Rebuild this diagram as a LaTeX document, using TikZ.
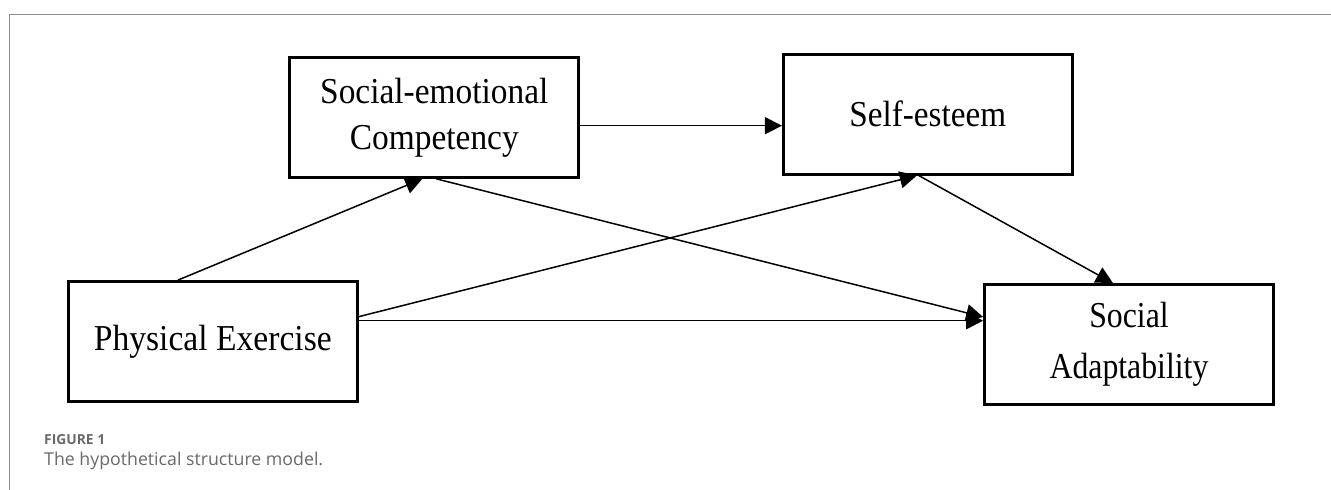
\documentclass[tikz,border=0pt]{standalone}
\usepackage{fontspec}
\usepackage{graphicx}
\setmainfont{Liberation Serif}
\newfontfamily\capfont{Open Sans}
\usetikzlibrary{arrows.meta,calc}
\definecolor{framegray}{RGB}{140,140,140}
\definecolor{capgray}{RGB}{105,105,105}
\newcommand\cnd[2][0.915]{\scalebox{#1}[1]{#2}}
\begin{document}
\begin{tikzpicture}[x=1pt,y=-1pt,
  box/.style={draw=black,line width=2.7pt,minimum width=289pt,minimum height=120pt,
    inner sep=0pt,align=center,font=\fontsize{36.5}{46}\selectfont},
  arr/.style={line width=1.5pt,-{Triangle[length=17pt,width=17pt]}}]
\useasboundingbox (0,0) rectangle (1331,490);
% frame
\draw[framegray,line width=1.4pt] (9.3,490) -- (9.3,14.5) -- (1331,14.5);
% boxes
\node[box] (SEC) at (434.3,117.5) {\cnd{Social-emotional}\\\cnd{Competency}};
\node[box] (SE)  at (927.8,114.2) {\cnd[0.91]{Self-esteem}};
\node[box] (PE)  at (212.8,341.5) {\cnd[0.92]{Physical Exercise}};
\node[box,font=\fontsize{36.5}{50.6}\selectfont] (SA) at (1129,344.5) {\cnd[0.87]{Social}\\\cnd[0.87]{Adaptability}};
% connectors
\draw[arr] ($(PE.north)+(-35,0)$) -- ($(SEC.south)+(-12,0)$);
\coordinate (s1) at ($(SEC.east)+(0,8.2)$);
\draw[arr] (s1) -- (s1 -| SE.west);
\draw[arr] ($(SEC.south)+(2,0)$) -- ($(SA.west)+(0,-27.5)$);
\draw[arr] ($(PE.east)+(0,-24.8)$) -- ($(SE.south)+(-11,0)$);
\coordinate (p1) at ($(PE.east)+(0,-20.8)$);
\draw[arr] (p1) -- (p1 -| SA.west);
\draw[arr] ($(SE.south)+(-9,0)$) -- ($(SA.north)+(-16,0)$);
% caption
\node[anchor=base west,inner sep=0pt,text=capgray,font=\capfont\bfseries\fontsize{14.5}{17}\selectfont] (fig) at (44,444.7) {\resizebox{61pt}{!}{FIGURE 1}};
\node[anchor=base west,inner sep=0pt,text=capgray,font=\capfont\fontsize{16.5}{19}\selectfont] (cap) at (44,465.5) {\resizebox{279pt}{!}{The hypothetical structure model.}};
\end{tikzpicture}
\end{document}
